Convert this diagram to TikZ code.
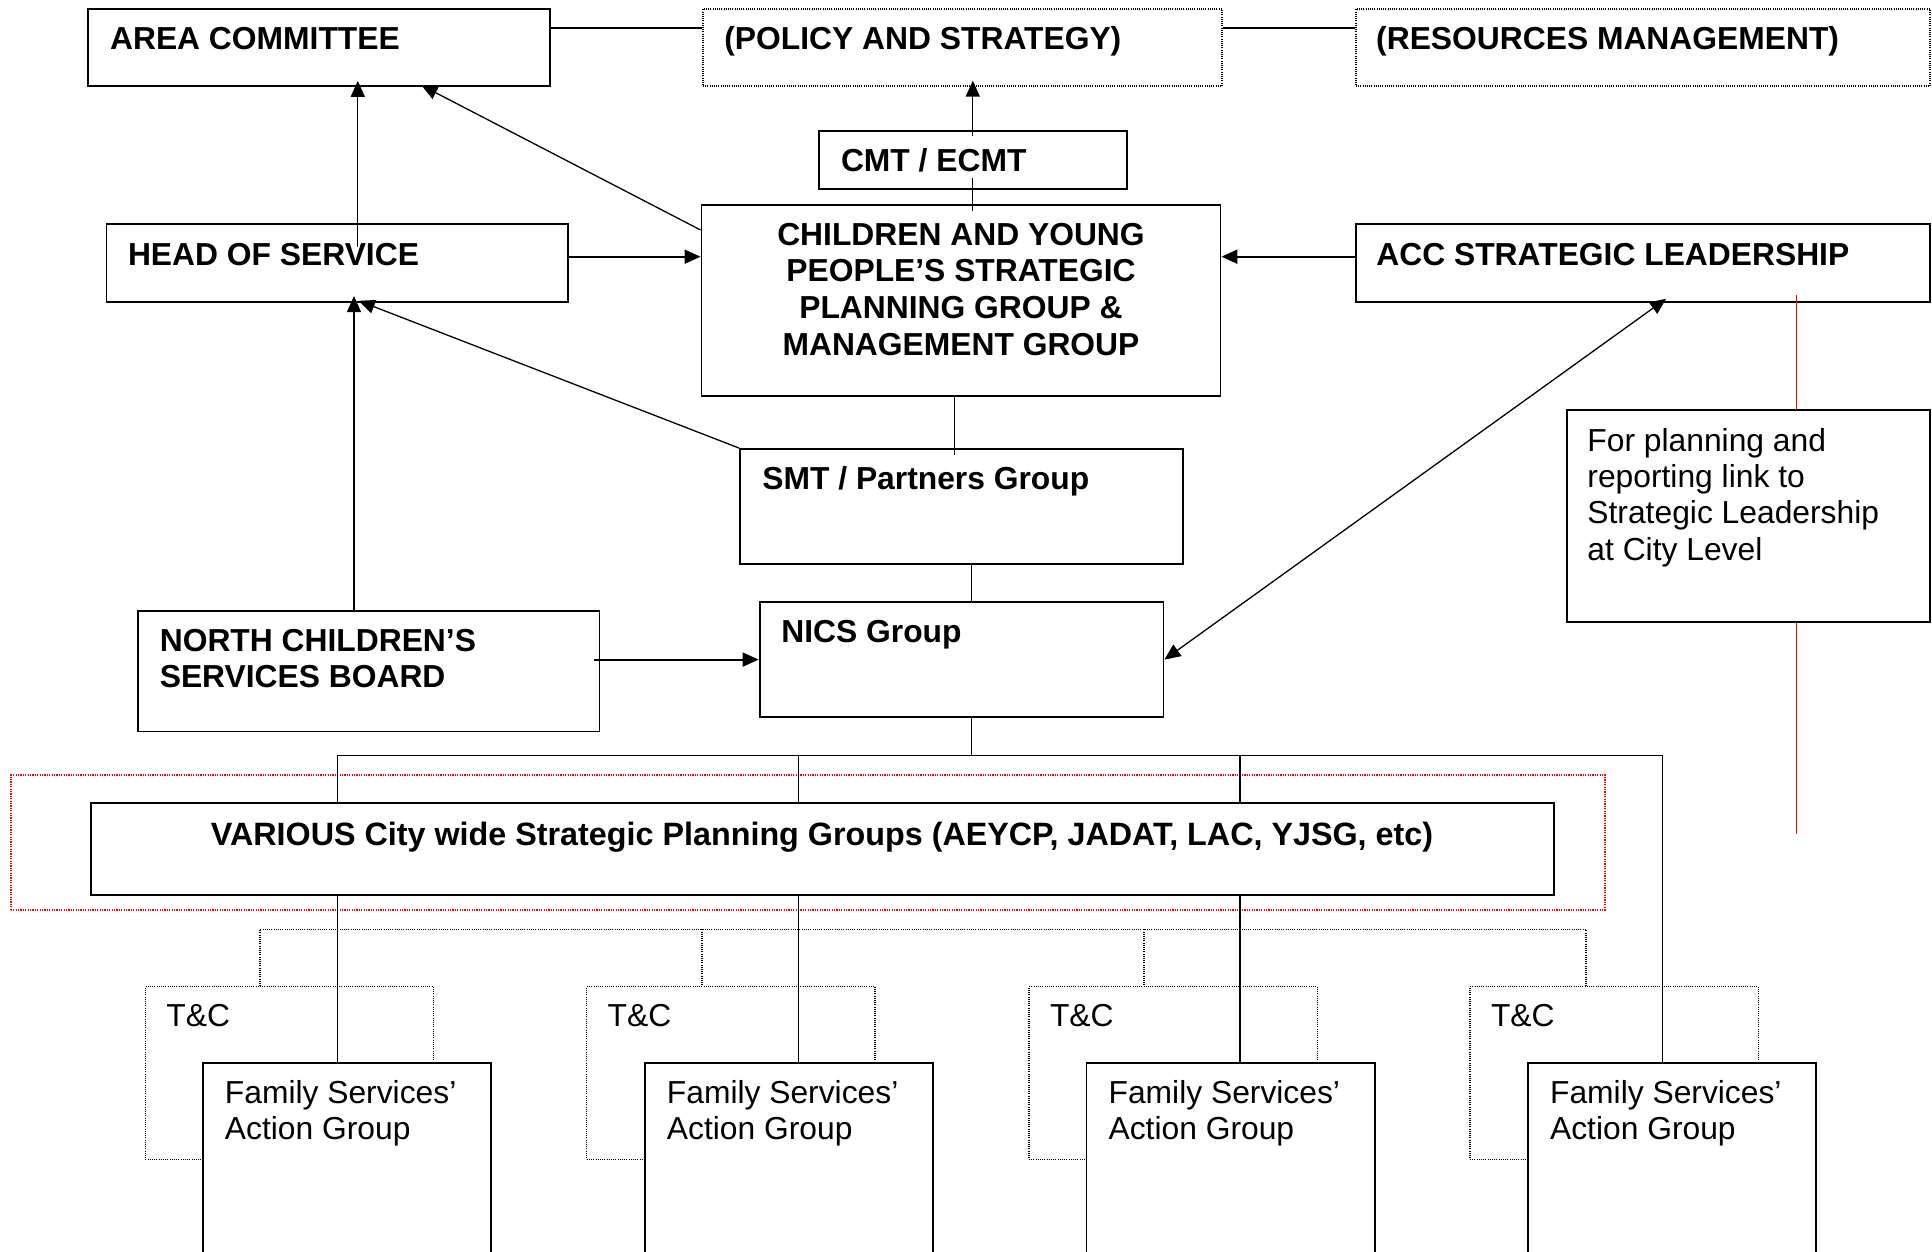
\documentclass[tikz,border=0pt]{standalone}
\usepackage{fontspec}
\setmainfont{Liberation Sans}
\usetikzlibrary{fit,arrows.meta,calc}
\newcommand{\ltop}[1]{\vtop{\baselineskip=18.2pt\halign{##\hfil\cr#1\crcr}}}
\newcommand{\ctop}[1]{\vtop{\baselineskip=18.4pt\halign{\hfil##\hfil\cr#1\crcr}}}
\begin{document}
\begin{tikzpicture}[x=0.5pt,y=-0.5pt,
  box/.style={draw, line width=0.95pt, inner sep=0pt},
  wbox/.style={box, fill=white},
  dotbox/.style={draw, line width=0.6pt, dash pattern=on 0.5pt off 0.6pt, inner sep=0pt},
  dotline/.style={line width=0.6pt, dash pattern=on 0.5pt off 0.6pt},
  reddot/.style={draw=red, line width=0.9pt, dash pattern=on 0.6pt off 0.6pt, inner sep=0pt},
  redline/.style={draw=red, line width=0.6pt},
  conn/.style={line width=0.65pt},
  thick conn/.style={line width=0.95pt},
  arr/.style={-{Triangle[length=8pt,width=7pt]}},
  darr/.style={{Triangle[length=8pt,width=7pt]}-{Triangle[length=8pt,width=7pt]}},
  bt/.style={font=\fontsize{15.9}{18.4}\selectfont\bfseries, inner sep=0pt, anchor=base west},
  rt/.style={font=\fontsize{15.9}{18.4}\selectfont, inner sep=0pt, anchor=base west}]
\useasboundingbox (0,0) rectangle (1932,1252);
\clip (0,0) rectangle (1932,1252);

% red dotted frame
\node[reddot, fit={(10.8,775.3) (1605,909.6)}] (redbox) {};

% T&C dotted boxes and dotted bus
\foreach \i/\tx in {1/145.4, 2/586.7, 3/1029, 4/1470} {
  \node[dotbox, fit={(\tx,986.7) (\tx+288.3,1159.3)}] (tc\i) {};
  \node[rt] (tcT\i) at (\tx+20.6,1026.7) {T\&C};
}
\coordinate (dbus1) at (260,929.3);
\coordinate (dbus2) at (702,929.3);
\coordinate (dbus3) at (1144,929.3);
\coordinate (dbus4) at (1586,929.3);
\draw[dotline] (tc1.north -| dbus1) -- (dbus1) -- (dbus4) -- (tc4.north -| dbus4);
\draw[dotline] (dbus2) -- (tc2.north -| dbus2);
\draw[dotline] (dbus3) -- (tc3.north -| dbus3);

% family boxes
\foreach \i/\fx in {1/202.8, 2/644.8, 3/1086.5, 4/1528} {
  \node[wbox, fit={(\fx,1063.3) (\fx+288.2,1275)}] (fam\i) {};
  \node[rt] (famT\i) at (\fx+21.7,1103.3) {\ltop{Family Services’\cr Action Group}};
}

% top boxes
\node[box, fit={(88,9) (550,85.7)}] (area) {};
\node[dotbox, fit={(703,9) (1222,86)}] (policy) {};
\node[dotbox, fit={(1356,9) (1930,86)}] (res) {};
\node[box, fit={(819,130.7) (1126.6,189)}] (cmt) {};
\node[box, fit={(701.5,205) (1220.5,395.7)}] (cyp) {};
\node[box, fit={(106.5,224) (567.6,301.7)}] (hos) {};
\node[box, fit={(1356,224.3) (1930,301.7)}] (acc) {};
\node[box, fit={(740,449) (1183,564)}] (smt) {};
\node[box, fit={(759.6,601.7) (1163.5,717.4)}] (nics) {};
\node[box, fit={(138.4,611.2) (599.5,731.5)}] (ncsb) {};
\node[box, fit={(1566.8,410) (1930,621.7)}] (forp) {};

\node[bt] (areaT) at (109.7,50) {AREA COMMITTEE};
\node[bt] (policyT) at (724,50) {(POLICY AND STRATEGY)};
\node[bt] (resT) at (1375.8,50) {(RESOURCES MANAGEMENT)};
\node[bt] (cmtT) at (840.6,171.7) {CMT / ECMT};
\node[bt, anchor=base] (cypT) at (961,245) {\ctop{CHILDREN AND YOUNG\cr PEOPLE’S STRATEGIC\cr PLANNING GROUP \&\cr MANAGEMENT GROUP}};
\node[bt] (hosT) at (127.6,265) {HEAD OF SERVICE};
\node[bt] (accT) at (1376,265) {ACC STRATEGIC LEADERSHIP};
\node[bt] (smtT) at (762,489.4) {SMT / Partners Group};
\node[bt] (nicsT) at (781,642) {NICS Group};
\node[bt] (ncsbT) at (159.4,651.5) {\ltop{NORTH CHILDREN’S\cr SERVICES BOARD}};
\node[rt] (forpT) at (1587,451) {\ltop{For planning and\cr reporting link to\cr Strategic Leadership\cr at City Level}};

% connectors
\draw[thick conn] (area.east |- 0,27.7) -- (policy.west |- 0,27.7);
\draw[thick conn] (policy.east |- 0,27.7) -- (res.west |- 0,27.7);
\draw[conn, arr, shorten <=-3pt, shorten >=-3pt] (cmt.north) -- (policy.south -| cmt.north);
\draw[conn, shorten <=-6pt, shorten >=-3.5pt] (cmt.south) -- (cmt.south |- cyp.north);
\draw[conn, arr, shorten >=-1.4pt] (cyp.west |- 0,230) -- (area.south -| 424,0);
\draw[conn, arr, shorten <=-12pt, shorten >=-2.9pt] (hos.north -| 357.8,0) -- (area.south -| 357.8,0);
\draw[thick conn, arr] (hos.east |- 0,256.7) -- (cyp.west |- 0,256.7);
\draw[thick conn, arr] (acc.west |- 0,256.7) -- (cyp.east |- 0,256.7);
\draw[conn, arr, shorten >=-2.5pt] (smt.north west) -- (hos.south -| 363.5,0);
\draw[conn, shorten >=-3.5pt] (cyp.south -| 954.7,0) -- (smt.north -| 954.7,0);
\draw[conn] (smt.south -| 971.3,0) -- (nics.north -| 971.3,0);
\draw[conn, arr, shorten >=-3.3pt] (ncsb.north -| 354,0) -- (hos.south -| 354,0);
\draw[thick conn, arr, shorten <=-3.2pt] (ncsb.east |- 0,659.6) -- (nics.west |- 0,659.6);
\draw[conn, darr, shorten <=-3.3pt] (acc.south -| 1660.7,0) -- (nics.east |- 0,659.6);
\draw[redline, shorten <=-3.8pt] (acc.south -| 1796.6,0) -- (forp.north -| 1796.6,0);
\coordinate (redEnd) at (1796.6,833.9);
\draw[redline] (forp.south -| redEnd) -- (redEnd);

% bus to action groups
\coordinate (busN) at (971.3,755.3);
\coordinate (bus1) at (337.4,755.3);
\coordinate (bus2) at (798.5,755.3);
\coordinate (bus3) at (1240,755.3);
\coordinate (bus4) at (1662.6,755.3);
\draw[conn] (nics.south -| busN) -- (busN);
\draw[conn] (fam1.north -| bus1) -- (bus1) -- (bus4) -- (fam4.north -| bus4);
\draw[conn] (bus2) -- (fam2.north -| bus2);
\draw[conn] (bus3) -- (fam3.north -| bus3);

% city wide groups box
\node[wbox, fit={(90.6,803.4) (1554,894.6)}] (various) {};
\node[bt, anchor=base, font=\fontsize{16.15}{18.4}\selectfont\bfseries] (variousT) at (822,845) {VARIOUS City wide Strategic Planning Groups (AEYCP, JADAT, LAC, YJSG, etc)};
\end{tikzpicture}
\end{document}
